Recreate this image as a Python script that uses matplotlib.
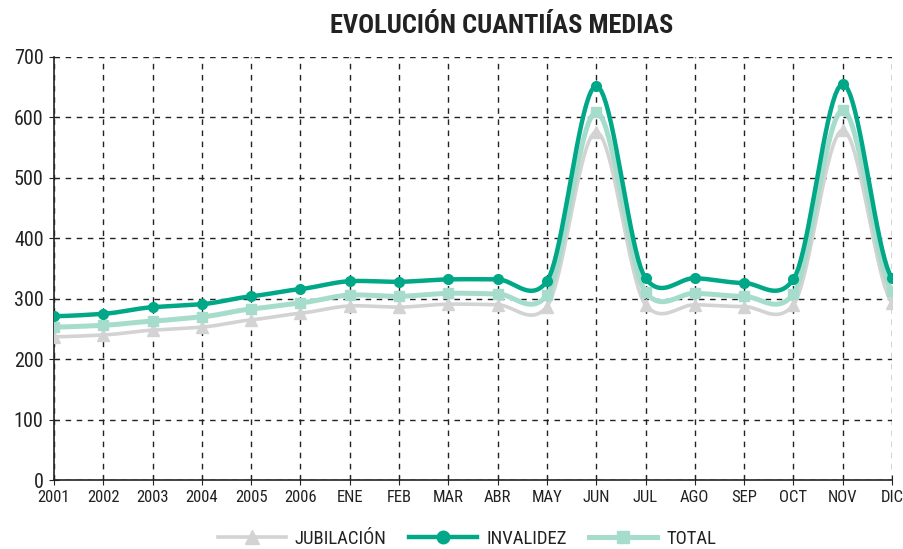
import numpy as np
import matplotlib.pyplot as plt

# =========================================================
# DATA
# =========================================================
categories = ["2001", "2002", "2003", "2004", "2005", "2006", "ENE", "FEB", "MAR",
              "ABR", "MAY", "JUN", "JUL", "AGO", "SEP", "OCT", "NOV", "DIC"]
jubilacion = [237, 240, 248, 253, 265, 276, 288, 286, 291, 290, 287, 576,
              290, 290, 287, 290, 579, 293]
invalidez = [271, 275, 286, 291, 304, 316, 329, 328, 332, 332, 329, 652,
             334, 334, 326, 332, 655, 334]
total = [253, 256, 263, 270, 283, 293, 306, 304, 309, 308, 306, 609,
         311, 309, 304, 308, 612, 313]

plt.rcParams['font.family'] = ['Roboto Condensed', 'Archivo Narrow', 'DejaVu Sans']
TXT = '#222222'


def smooth(y, n=20, k=0.7):
    # cardinal spline through the points (used only to draw the line)
    y = np.asarray(y, dtype=float)
    p = np.concatenate([[y[0]], y, [y[-1]]])
    m = k * (p[2:] - p[:-2]) / 2
    xs, ys = [], []
    t = np.linspace(0, 1, n, endpoint=False)
    h00 = 2 * t ** 3 - 3 * t ** 2 + 1
    h10 = t ** 3 - 2 * t ** 2 + t
    h01 = -2 * t ** 3 + 3 * t ** 2
    h11 = t ** 3 - t ** 2
    for i in range(len(y) - 1):
        xs.append(i + t)
        ys.append(h00 * y[i] + h10 * m[i] + h01 * y[i + 1] + h11 * m[i + 1])
    xs.append([len(y) - 1])
    ys.append([y[-1]])
    return np.concatenate(xs), np.concatenate(ys)


fig = plt.figure(figsize=(9.04, 5.49), dpi=100)
ax = fig.add_axes([54 / 904, 1 - 480 / 549, (892 - 54) / 904, (480 - 57) / 549])

x = np.arange(len(categories))
series = [
    ("JUBILACIÓN", jubilacion, '#d3d3d3', '^', 2.6, 8),
    ("TOTAL", total, '#a6dccb', 's', 3.6, 7),
    ("INVALIDEZ", invalidez, '#00a887', 'o', 3.2, 7),
]
handles = {}
for label, vals, col, mk, lw, ms in series:
    sx, sy = smooth(vals)
    ax.plot(sx, sy, color=col, linewidth=lw, solid_capstyle='round', zorder=3)
    ax.plot(x, vals, linestyle='none', marker=mk, color=col, markersize=ms, zorder=4)
    handles[label] = ax.plot([], [], color=col, linewidth=lw, marker=mk,
                             markersize=ms + 2, label=label)[0]

ax.set_xlim(0, len(categories) - 1)
ax.set_ylim(0, 700)
ax.set_yticks(np.arange(0, 701, 100))
ax.set_xticks(x)
ax.set_xticklabels(categories, fontsize=12)
ax.tick_params(axis='y', labelsize=14.5, length=7, direction='inout', color=TXT,
               labelcolor=TXT, pad=4)
ax.tick_params(axis='x', length=7, direction='inout', color=TXT, labelcolor=TXT, pad=4)
ax.grid(True, color=TXT, linestyle=(0, (4, 4)), linewidth=1)
ax.set_axisbelow(True)
for s in ['top', 'right']:
    ax.spines[s].set_visible(False)
for s in ['left', 'bottom']:
    ax.spines[s].set_color(TXT)
    ax.spines[s].set_linewidth(1.2)

fig.text(502 / 904, 1 - 26 / 549, "EVOLUCIÓN CUANTIÍAS MEDIAS", ha='center', va='center',
         fontsize=19, fontweight='bold', color=TXT)

fig.legend([handles["JUBILACIÓN"], handles["INVALIDEZ"], handles["TOTAL"]],
           ["JUBILACIÓN", "INVALIDEZ", "TOTAL"], loc='center',
           bbox_to_anchor=(467 / 904, 1 - 539 / 549), ncol=3, frameon=False,
           fontsize=13.5, handlelength=3.6, columnspacing=1.2, handletextpad=0.5,
           labelcolor=TXT)

plt.savefig("out.png", dpi=100)
